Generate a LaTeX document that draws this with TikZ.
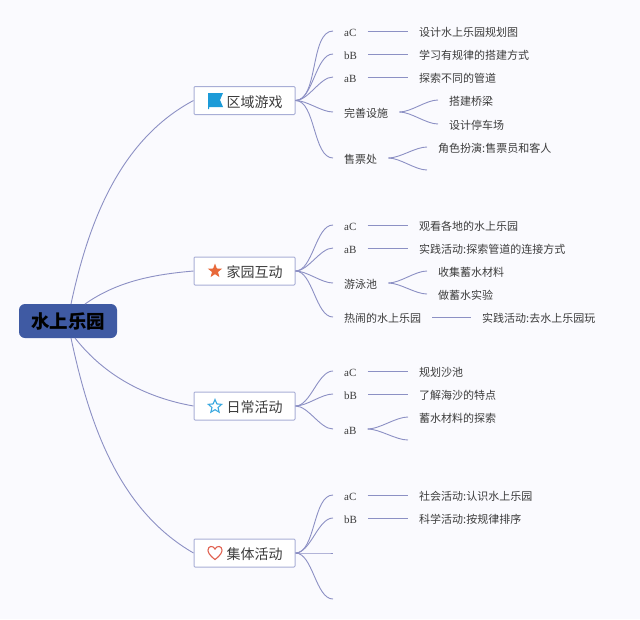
\documentclass[tikz,border=0pt]{standalone}
\usepackage{fontspec}
\setmainfont{Liberation Serif}
\newfontfamily\cjk{Noto Sans CJK SC}
\usetikzlibrary{shapes.geometric}
\definecolor{paper}{HTML}{FAFAFE}
\definecolor{wire}{HTML}{8C90C4}
\definecolor{rim}{HTML}{A8AED6}
\definecolor{rootblue}{HTML}{3F5AA3}
\definecolor{ink}{HTML}{3C3C3C}
\definecolor{flagblue}{HTML}{1C9BD8}
\definecolor{starorange}{HTML}{E8693A}
\definecolor{starblue}{HTML}{3BA9E0}
\definecolor{heartred}{HTML}{E0604F}
\tikzset{
	root/.style={fill=rootblue,rounded corners=6pt,minimum width=98pt,minimum height=34pt,inner sep=0pt,font=\cjk\bfseries\fontsize{18.5}{20}\selectfont,text=black},
	topic/.style={draw=rim,fill=white,line width=1pt,rounded corners=1pt,minimum width=101pt,minimum height=28pt,inner sep=0pt,text height=15pt,text depth=2pt,font=\cjk\fontsize{14}{16}\selectfont,text=ink},
	leaf/.style={anchor=west,inner xsep=11pt,inner ysep=1pt,text height=12.5pt,text depth=2pt,font=\fontsize{11}{13}\selectfont,text=ink},
	link/.style={draw=wire,line width=0.9pt},
	branch/.style={out=0,in=180,looseness=0.75},
}
\newcommand{\zh}[1]{{\cjk #1}}
\begin{document}
\begin{tikzpicture}[x=1pt,y=-1pt]
	\useasboundingbox[fill=paper] (0,0) rectangle (640,619);
	
	\node[root] (park) at (68,321) {水上乐园};
	\node[topic] (zone) at (244.5,100.5) {\hspace*{20pt}区域游戏};
	\node[topic] (home) at (244.5,271) {\hspace*{20pt}家园互动};
	\node[topic] (daily) at (244.5,406) {\hspace*{20pt}日常活动};
	\node[topic] (group) at (244.5,553) {\hspace*{20pt}集体活动};
	
	\coordinate (parkA) at (71,304);
	\coordinate (parkB) at (85,304);
	\coordinate (parkC) at (75,338);
	\coordinate (parkD) at (71,338);
	\draw[link] (parkA) to[out=78,in=208,looseness=0.9] (zone.west);
	\draw[link] (parkB) to[out=35,in=185,looseness=0.9] (home.west);
	\draw[link] (parkC) to[out=-52,in=170,looseness=0.9] (daily.west);
	\draw[link] (parkD) to[out=-78,in=150,looseness=0.9] (group.west);
	
	% zone
	\node[leaf] (z1) at (333,31) {aC};
	\node[leaf] (z2) at (333,54) {bB};
	\node[leaf] (z3) at (333,77) {aB};
	\node[leaf] (z4) at (333,112) {\zh{完善设施}};
	\node[leaf] (z5) at (333,158) {\zh{售票处}};
	\node[leaf] (z1a) at (408,31) {\zh{设计水上乐园规划图}};
	\node[leaf] (z2a) at (408,54) {\zh{学习有规律的搭建方式}};
	\node[leaf] (z3a) at (408,77) {\zh{探索不同的管道}};
	\node[leaf] (z4a) at (438,100) {\zh{搭建桥梁}};
	\node[leaf] (z4b) at (438,124) {\zh{设计停车场}};
	\node[leaf] (z5a) at (427,147) {\zh{角色扮演:售票员和客人}};
	\coordinate (z5b) at (427,170);
	\foreach \n in {z1,z2,z3,z4,z5} \draw[link] (zone.east) to[branch] (\n.west);
	\foreach \n in {1,2,3} \draw[link] (z\n.east) -- (z\n a.west);
	\foreach \n in {z4a,z4b} \draw[link] (z4.east) to[branch] (\n.west);
	\draw[link] (z5.east) to[branch] (z5a.west);
	\draw[link] (z5.east) to[branch] (z5b);
	
	% home
	\node[leaf] (h1) at (333,225) {aC};
	\node[leaf] (h2) at (333,248) {aB};
	\node[leaf] (h3) at (333,283) {\zh{游泳池}};
	\node[leaf] (h4) at (333,317) {\zh{热闹的水上乐园}};
	\node[leaf] (h1a) at (408,225) {\zh{观看各地的水上乐园}};
	\node[leaf] (h2a) at (408,248) {\zh{实践活动:探索管道的连接方式}};
	\node[leaf] (h3a) at (427,271) {\zh{收集蓄水材料}};
	\node[leaf] (h3b) at (427,294) {\zh{做蓄水实验}};
	\node[leaf] (h4a) at (471,317) {\zh{实践活动:去水上乐园玩}};
	\foreach \n in {h1,h2,h3,h4} \draw[link] (home.east) to[branch] (\n.west);
	\foreach \n in {1,2,4} \draw[link] (h\n.east) -- (h\n a.west);
	\foreach \n in {h3a,h3b} \draw[link] (h3.east) to[branch] (\n.west);
	
	% daily
	\node[leaf] (d1) at (333,371) {aC};
	\node[leaf] (d2) at (333,394) {bB};
	\node[leaf] (d3) at (333,429) {aB};
	\node[leaf] (d1a) at (408,371) {\zh{规划沙池}};
	\node[leaf] (d2a) at (408,394) {\zh{了解海沙的特点}};
	\node[leaf] (d3a) at (408,417) {\zh{蓄水材料的探索}};
	\coordinate (d3b) at (408,440);
	\foreach \n in {d1,d2,d3} \draw[link] (daily.east) to[branch] (\n.west);
	\foreach \n in {1,2} \draw[link] (d\n.east) -- (d\n a.west);
	\draw[link] (d3.east) to[branch] (d3a.west);
	\draw[link] (d3.east) to[branch] (d3b);
	
	% group
	\node[leaf] (g1) at (333,495) {aC};
	\node[leaf] (g2) at (333,518) {bB};
	\coordinate (g3) at (333,553);
	\coordinate (g4) at (333,599);
	\node[leaf] (g1a) at (408,495) {\zh{社会活动:认识水上乐园}};
	\node[leaf] (g2a) at (408,518) {\zh{科学活动:按规律排序}};
	\foreach \n in {g1,g2} \draw[link] (group.east) to[branch] (\n.west);
	\foreach \n in {g3,g4} \draw[link] (group.east) to[branch] (\n);
	\foreach \n in {1,2} \draw[link] (g\n.east) -- (g\n a.west);
	
	% icons
	\fill[flagblue] (208,93) -- (223,93) -- (220,100) -- (223,107) -- (209,107) -- (209,109) -- (208,109) -- cycle;
	\node[star,star points=5,star point ratio=2.4,fill=starorange,inner sep=0pt,minimum size=15pt] (homeicon) at (215,271) {};
	\node[star,star points=5,star point ratio=2.2,draw=starblue,line width=1.1pt,fill=white,inner sep=0pt,minimum size=14pt] (dailyicon) at (215,406.5) {};
	\draw[heartred,line width=1.1pt,fill=white] (215,559.5) .. controls (209,555) and (208,552) .. (208,550) .. controls (208,546) and (213,545) .. (215,549) .. controls (217,545) and (222,546) .. (222,550) .. controls (222,552) and (221,555) .. (215,559.5) -- cycle;
\end{tikzpicture}
\end{document}
